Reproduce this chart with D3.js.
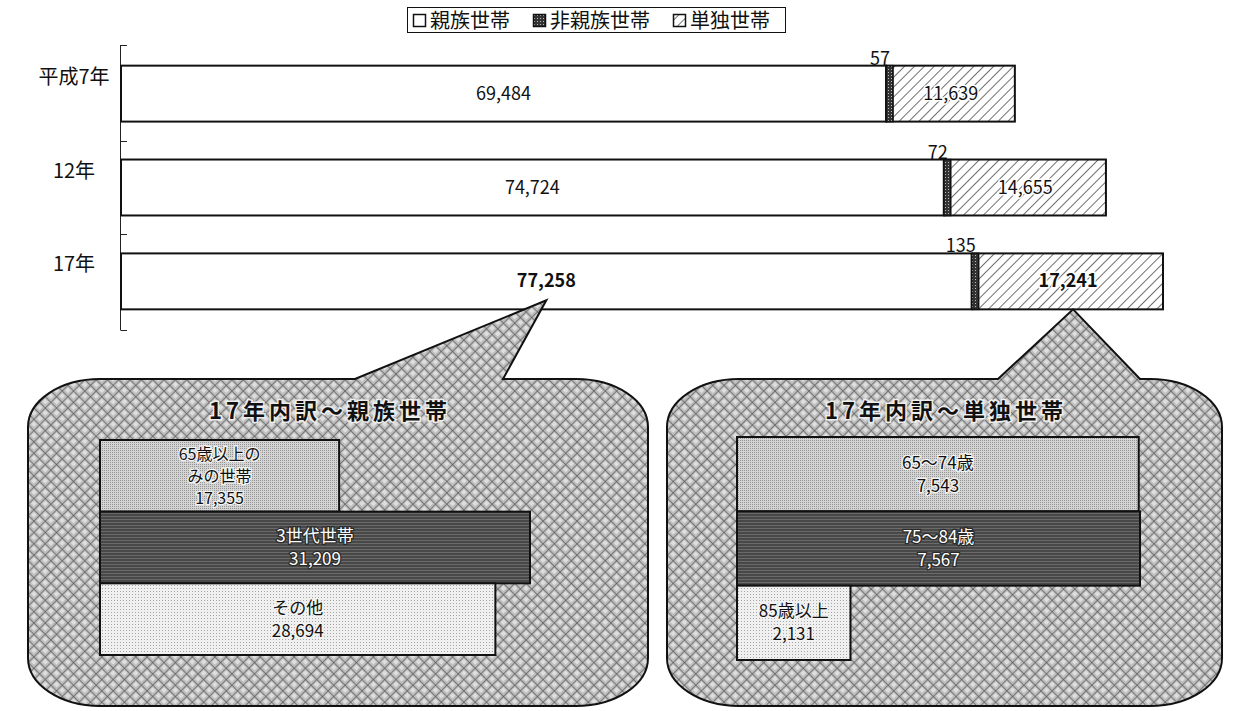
<!DOCTYPE html>
<html lang="ja">
<head>
<meta charset="UTF-8">
<title>世帯の推移</title>
<script src="https://d3js.org/d3.v7.min.js"></script>
<style>
  body { margin: 0; background: #fff; }
  svg text { font-family: "Noto Sans CJK JP", "Noto Sans", sans-serif; }
</style>
</head>
<body>
<svg width="1233" height="711"></svg>
<script>
// main chart data
const years = ["平成7年", "12年", "17年"];
const kin = [69484, 74724, 77258];      // 親族世帯
const nonKin = [57, 72, 135];            // 非親族世帯
const single = [11639, 14655, 17241];    // 単独世帯
const legendNames = ["親族世帯", "非親族世帯", "単独世帯"];

// 17年 breakdown
const kinTitle = "17年内訳～親族世帯";
const kinParts = [["65歳以上の", "みの世帯"], ["3世代世帯"], ["その他"]];
const kinValues = [17355, 31209, 28694];
const singleTitle = "17年内訳～単独世帯";
const singleParts = [["65～74歳"], ["75～84歳"], ["85歳以上"]];
const singleValues = [7543, 7567, 2131];

const fmt = d3.format(",");
const svg = d3.select("svg");

// patterns
const defs = svg.append("defs");
let p = defs.append("pattern").attr("id", "hatch").attr("patternUnits", "userSpaceOnUse")
  .attr("width", 7).attr("height", 7).attr("patternTransform", "rotate(45)");
p.append("rect").attr("width", 7).attr("height", 7).attr("fill", "#fff");
p.append("line").attr("x1", 0).attr("y1", 0).attr("x2", 0).attr("y2", 7).attr("stroke", "#222").attr("stroke-width", 1.3);

p = defs.append("pattern").attr("id", "darkdots").attr("patternUnits", "userSpaceOnUse").attr("width", 3).attr("height", 3);
p.append("rect").attr("width", 3).attr("height", 3).attr("fill", "#333");
p.append("rect").attr("width", 1).attr("height", 1).attr("fill", "#bbb");

p = defs.append("pattern").attr("id", "cross").attr("patternUnits", "userSpaceOnUse")
  .attr("width", 8).attr("height", 8).attr("patternTransform", "rotate(45)");
p.append("rect").attr("width", 8).attr("height", 8).attr("fill", "#bdbdbd");
p.append("rect").attr("x", 2).attr("y", 2).attr("width", 4).attr("height", 4).attr("fill", "#dedede");
p.append("line").attr("x1", 0).attr("y1", 0).attr("x2", 8).attr("y2", 0).attr("stroke", "#4a4a4a").attr("stroke-width", 1.2);
p.append("line").attr("x1", 0).attr("y1", 0).attr("x2", 0).attr("y2", 8).attr("stroke", "#4a4a4a").attr("stroke-width", 1.2);

p = defs.append("pattern").attr("id", "midgray").attr("patternUnits", "userSpaceOnUse").attr("width", 2).attr("height", 2);
p.append("rect").attr("width", 2).attr("height", 2).attr("fill", "#d4d4d4");
p.append("rect").attr("width", 1).attr("height", 1).attr("fill", "#959595");

p = defs.append("pattern").attr("id", "darkgray").attr("patternUnits", "userSpaceOnUse").attr("width", 3).attr("height", 3);
p.append("rect").attr("width", 3).attr("height", 3).attr("fill", "#484848");
p.append("rect").attr("width", 3).attr("height", 1).attr("fill", "#6a6a6a");

p = defs.append("pattern").attr("id", "lightgray").attr("patternUnits", "userSpaceOnUse").attr("width", 3).attr("height", 3);
p.append("rect").attr("width", 3).attr("height", 3).attr("fill", "#f0f0f0");
p.append("rect").attr("width", 1).attr("height", 1).attr("fill", "#a5a5a5");

// legend
const lg = svg.append("g");
lg.append("rect").attr("x", 407.5).attr("y", 7.5).attr("width", 378).attr("height", 25)
  .attr("fill", "#fff").attr("stroke", "#111");
const lgX = [413, 533, 673];
const lgFill = ["#fff", "url(#darkdots)", "url(#hatch)"];
legendNames.forEach((n, i) => {
  lg.append("rect").attr("x", lgX[i] + 0.5).attr("y", 14.5).attr("width", 12).attr("height", 12)
    .attr("fill", lgFill[i]).attr("stroke", "#111").attr("stroke-width", 1.5);
  lg.append("text").attr("x", lgX[i] + 17).attr("y", 28).attr("font-size", 20).attr("fill", "#111").text(n);
});

// main bars
const totals = years.map((d, i) => kin[i] + nonKin[i] + single[i]);
const x = d3.scaleLinear().domain([0, d3.max(totals)]).range([121, 1163]);
const y = d3.scaleBand().domain(years).range([45, 330]).paddingInner(0.404).paddingOuter(0.22);

// axis line with category boundary ticks
const ax = svg.append("g").attr("stroke", "#222").attr("stroke-width", 1);
ax.append("line").attr("x1", 120.5).attr("x2", 120.5).attr("y1", 45).attr("y2", 330);
const bounds = [45].concat(years.slice(1).map(d => y(d) - y.step() * y.paddingInner() / 2), [330]);
ax.selectAll("line.t").data(bounds).join("line").attr("class", "t")
  .attr("x1", 120.5).attr("x2", 127).attr("y1", d => Math.round(d) + 0.5).attr("y2", d => Math.round(d) + 0.5);

svg.append("g").selectAll("text").data(years).join("text")
  .attr("x", 74).attr("y", d => y(d) + y.bandwidth() / 2 - 10)
  .attr("text-anchor", "middle").attr("font-size", 20).attr("fill", "#111").text(d => d);

const bars = svg.append("g");
years.forEach((yr, i) => {
  const y0 = y(yr), h = y.bandwidth();
  const bold = i === years.length - 1 ? "bold" : "normal";
  bars.append("rect").attr("x", x(0)).attr("y", y0).attr("width", x(kin[i]) - x(0)).attr("height", h)
    .attr("fill", "#fff").attr("stroke", "#111").attr("stroke-width", 2);
  bars.append("rect").attr("x", x(kin[i] + nonKin[i])).attr("y", y0)
    .attr("width", x(totals[i]) - x(kin[i] + nonKin[i])).attr("height", h)
    .attr("fill", "url(#hatch)").attr("stroke", "#111").attr("stroke-width", 2);
  // tiny segment given a visible minimum width
  const w = Math.max(7, x(nonKin[i]) - x(0));
  bars.append("rect").attr("x", x(kin[i])).attr("y", y0).attr("width", w).attr("height", h)
    .attr("fill", "url(#darkdots)").attr("stroke", "#111").attr("stroke-width", 1.5);

  bars.append("text").attr("x", (x(0) + x(kin[i])) / 2).attr("y", y0 + h / 2 + 6)
    .attr("text-anchor", "middle").attr("font-size", 18).attr("font-weight", bold).attr("fill", "#111").text(fmt(kin[i]));
  bars.append("text").attr("x", (x(kin[i] + nonKin[i]) + x(totals[i])) / 2).attr("y", y0 + h / 2 + 6)
    .attr("text-anchor", "middle").attr("font-size", 18).attr("font-weight", bold).attr("fill", "#111")
    .attr("stroke", "#fff").attr("stroke-width", 3).attr("paint-order", "stroke").text(fmt(single[i]));
  bars.append("text").attr("x", x(kin[i]) + 4).attr("y", y0 - 1)
    .attr("text-anchor", "end").attr("font-size", 18).attr("fill", "#111").text(fmt(nonKin[i]));
});

// callout shapes
function callout(x0, x1, y0, y1, b0, b1, tip) {
  const rx = 72, ry = 48;
  return `M${x0 + rx},${y0} L${b0},${y0} L${tip[0]},${tip[1]} L${b1},${y0} L${x1 - rx},${y0}
    A${rx},${ry} 0 0 1 ${x1},${y0 + ry} L${x1},${y1 - ry} A${rx},${ry} 0 0 1 ${x1 - rx},${y1}
    L${x0 + rx},${y1} A${rx},${ry} 0 0 1 ${x0},${y1 - ry} L${x0},${y0 + ry} A${rx},${ry} 0 0 1 ${x0 + rx},${y0} Z`;
}
const last = years.length - 1;
const yb = y(years[last]) + y.bandwidth();
const kinTip = [(x(0) + x(kin[last])) / 2, yb - 9];
const singleTip = [(x(kin[last] + nonKin[last]) + x(totals[last])) / 2 + 5, yb];

svg.append("path").attr("d", callout(28, 648, 379, 706, 355, 503, kinTip))
  .attr("fill", "url(#cross)").attr("stroke", "#111").attr("stroke-width", 2);
svg.append("path").attr("d", callout(667, 1222, 379, 706, 998, 1140, singleTip))
  .attr("fill", "url(#cross)").attr("stroke", "#111").attr("stroke-width", 2);

function breakdown(title, cx, parts, values, xr, yr) {
  const g = svg.append("g");
  g.append("text").attr("x", cx).attr("y", 419).attr("text-anchor", "middle")
    .attr("font-size", 22).attr("font-weight", "bold").attr("letter-spacing", 4).attr("fill", "#111")
    .attr("stroke", "#eee").attr("stroke-width", 3).attr("paint-order", "stroke").text(title);
  const sx = d3.scaleLinear().domain([0, d3.max(values)]).range(xr);
  const sy = d3.scaleBand().domain(d3.range(values.length)).range(yr);
  const fills = ["url(#midgray)", "url(#darkgray)", "url(#lightgray)"];
  values.forEach((v, i) => {
    g.append("rect").attr("x", sx(0)).attr("y", sy(i)).attr("width", sx(v) - sx(0)).attr("height", sy.bandwidth())
      .attr("fill", fills[i]).attr("stroke", "#111").attr("stroke-width", 2);
    const lines = parts[i].concat([fmt(v)]);
    const mid = sy(i) + sy.bandwidth() / 2;
    const lh = lines.length > 2 ? 22 : 23;
    const fs = lines.length > 2 ? 16 : 17;
    lines.forEach((t, j) => {
      g.append("text").attr("x", (sx(0) + sx(v)) / 2)
        .attr("y", mid + (j - (lines.length - 1) / 2) * lh + 6)
        .attr("text-anchor", "middle").attr("font-size", fs)
        .attr("fill", i === 1 ? "#fff" : "#111")
        .attr("stroke", i === 1 ? "#2a2a2a" : "#f4f4f4").attr("stroke-width", 2.5).attr("paint-order", "stroke")
        .text(t);
    });
  });
}
breakdown(kinTitle, 330, kinParts, kinValues, [100, 530], [440, 655]);
breakdown(singleTitle, 946, singleParts, singleValues, [737, 1140], [437, 660]);
</script>
</body>
</html>
